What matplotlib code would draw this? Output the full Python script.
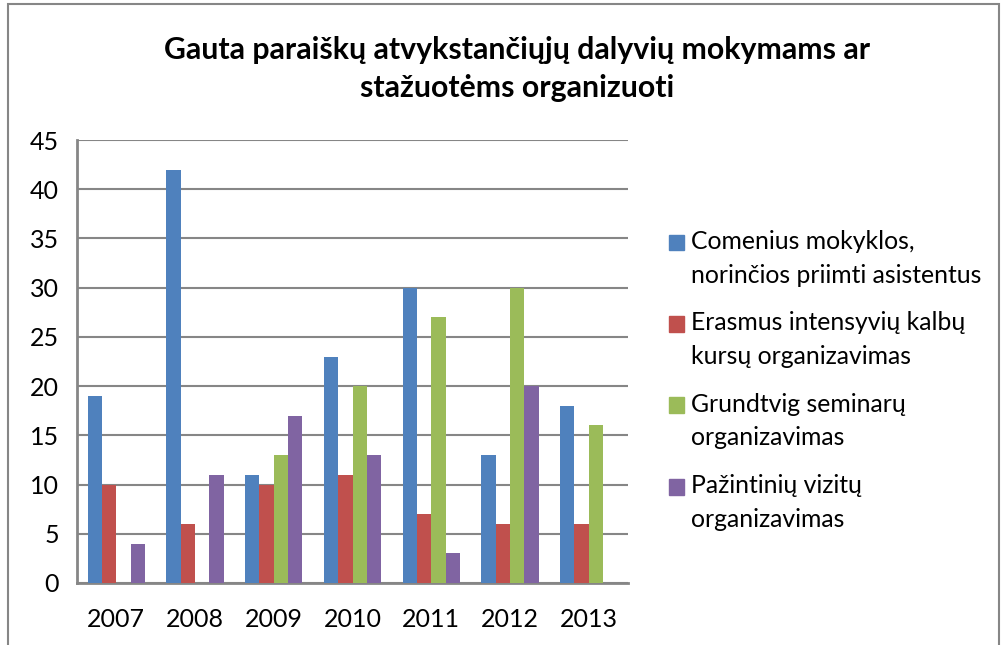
import numpy as np
import matplotlib.pyplot as plt
from matplotlib.patches import Rectangle, Patch
from matplotlib.legend_handler import HandlerPatch

years = ['2007', '2008', '2009', '2010', '2011', '2012', '2013']
comenius = [19, 42, 11, 23, 30, 13, 18]
erasmus = [10, 6, 10, 11, 7, 6, 6]
grundtvig = [0, 0, 13, 20, 27, 30, 16]
pazintiniu = [4, 11, 17, 13, 3, 20, 0]

labels = ['Comenius mokyklos,\nnorinčios priimti asistentus',
          'Erasmus intensyvių kalbų\nkursų organizavimas',
          'Grundtvig seminarų\norganizavimas',
          'Pažintinių vizitų\norganizavimas']
colors = ['#4F81BD', '#C0504D', '#9BBB59', '#8064A2']

plt.rcParams['font.family'] = ['Lato', 'DejaVu Sans']

fig = plt.figure(figsize=(10.02, 6.45), dpi=100)
ax = fig.add_axes([77/1002, 1-583/645, (628-77)/1002, (583-140)/645])

x = np.arange(len(years))
w = 1/5.5
for i, (vals, c) in enumerate(zip([comenius, erasmus, grundtvig, pazintiniu], colors)):
    ax.bar(x + (i - 1.5)*w, vals, w, color=c, zorder=3)

ax.set_xlim(-0.5, len(years) - 0.5)
ax.set_ylim(0, 45)
ax.set_yticks(range(0, 46, 5))
ax.set_xticks(x)
ax.set_xticklabels(years)
ax.tick_params(length=0, labelsize=18, pad=18)
ax.tick_params(axis='y', pad=13)
ax.grid(axis='y', color='#868686', lw=1.5, zorder=0)
for s in ['top', 'right']:
    ax.spines[s].set_visible(False)
for s in ['left', 'bottom']:
    ax.spines[s].set_color('#868686')
    ax.spines[s].set_linewidth(2)

fig.text(517/1002, 1-69/645, 'Gauta paraiškų atvykstančiųjų dalyvių mokymams ar\nstažuotėms organizuoti',
         ha='center', va='center', fontsize=21.8, fontweight='bold', linespacing=1.42)


# square sits next to the first line of each two-line label
def first_line_square(legend, orig_handle, xdescent, ydescent, width, height, fontsize):
    return Rectangle((-xdescent, -ydescent + 11.9), width, height)


proxies = [Patch(color=c) for c in colors]
fig.legend(proxies, labels, loc='upper left', bbox_to_anchor=(669/1002, 1-230/645),
           frameon=False, fontsize=17.8, handlelength=0.6, handleheight=0.6,
           handletextpad=0.28, labelspacing=1.0, borderpad=0, borderaxespad=0,
           handler_map={Patch: HandlerPatch(patch_func=first_line_square)})
for t in fig.legends[0].get_texts():
    t.set_linespacing(1.56)

fig.patches.append(Rectangle((8/1002, -0.1), 991/1002, 1.1 - 4/645, transform=fig.transFigure,
                             fill=False, edgecolor='#868686', lw=1.5))

fig.savefig('out.png', dpi=100)
